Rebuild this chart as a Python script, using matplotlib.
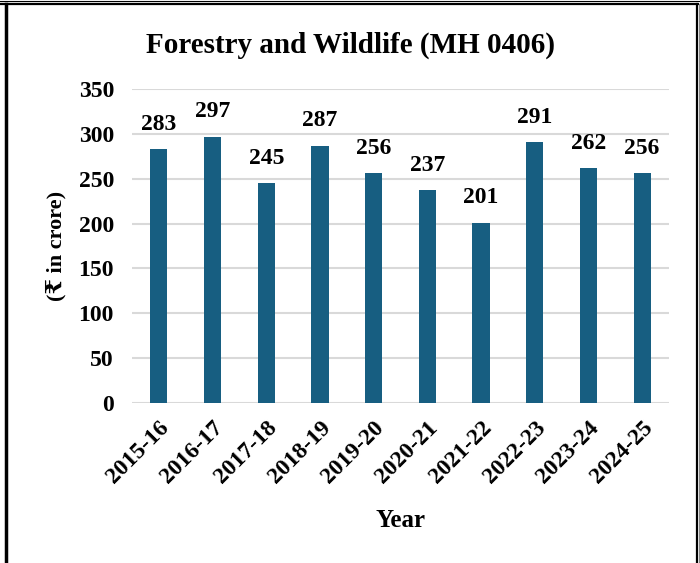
import matplotlib.pyplot as plt
from matplotlib.lines import Line2D

years = ["2015-16", "2016-17", "2017-18", "2018-19", "2019-20",
         "2020-21", "2021-22", "2022-23", "2023-24", "2024-25"]
values = [283, 297, 245, 287, 256, 237, 201, 291, 262, 256]
yticks = [0, 50, 100, 150, 200, 250, 300, 350]

plt.rcParams['font.family'] = ['Liberation Serif', 'DejaVu Serif']
plt.rcParams['font.weight'] = 'bold'

W, H = 700, 563
fig = plt.figure(figsize=(W / 100, H / 100), dpi=100)
ax = fig.add_axes([132 / W, (H - 403) / H, (669 - 132) / W, (403 - 89) / H])

x = range(len(years))
bars = ax.bar(x, values, width=0.32, color="#175E81", zorder=3)
for xi, v in zip(x, values):
    ax.text(xi, v + 16, str(v), ha="center", va="bottom",
            fontsize=17, fontweight="bold")

ax.set_xlim(-0.5, len(years) - 0.5)
ax.set_ylim(0, 350)
ax.set_yticks(yticks)
ax.set_yticklabels([str(t) for t in yticks], fontsize=17, fontweight="bold")
ax.set_xticks(list(x))
ax.set_xticklabels(years, rotation=45, ha="right", rotation_mode="anchor",
                   fontsize=17, fontweight="bold")
ax.tick_params(length=0)
ax.tick_params(axis="y", pad=13)
ax.tick_params(axis="x", pad=10)
ax.grid(axis="y", color="#d9d9d9", linewidth=1.5, zorder=0)
for s in ax.spines.values():
    s.set_visible(False)

ax.set_ylabel("(₹ in crore)", fontsize=16, fontweight="bold")
ax.yaxis.set_label_coords((66 - 132) / (669 - 132), 0.5)
ax.set_xlabel("Year", fontsize=18, fontweight="bold")
ax.xaxis.set_label_coords(0.5, (403 - 509) / (403 - 89))
fig.text(350 / W, 1 - 45 / H, "Forestry and Wildlife (MH 0406)",
         ha="center", va="center", fontsize=21, fontweight="bold")

# outer frame
fig.add_artist(Line2D([0, 1], [1 - 1 / H, 1 - 1 / H], transform=fig.transFigure,
                      color="black", linewidth=0.8))
fig.add_artist(Line2D([0, 697.5 / W], [1 - 3.5 / H, 1 - 3.5 / H],
                      transform=fig.transFigure, color="black", linewidth=1.6))
fig.add_artist(Line2D([6 / W, 6 / W], [0, 1 - 3.5 / H], transform=fig.transFigure,
                      color="black", linewidth=2.5))
fig.add_artist(Line2D([697 / W, 697 / W], [0, 1 - 3.5 / H], transform=fig.transFigure,
                      color="black", linewidth=1.6))
fig.add_artist(Line2D([699 / W, 699 / W], [0, 1 - 3.5 / H], transform=fig.transFigure,
                      color="#888888", linewidth=0.8))

fig.savefig("out.png", dpi=100)
